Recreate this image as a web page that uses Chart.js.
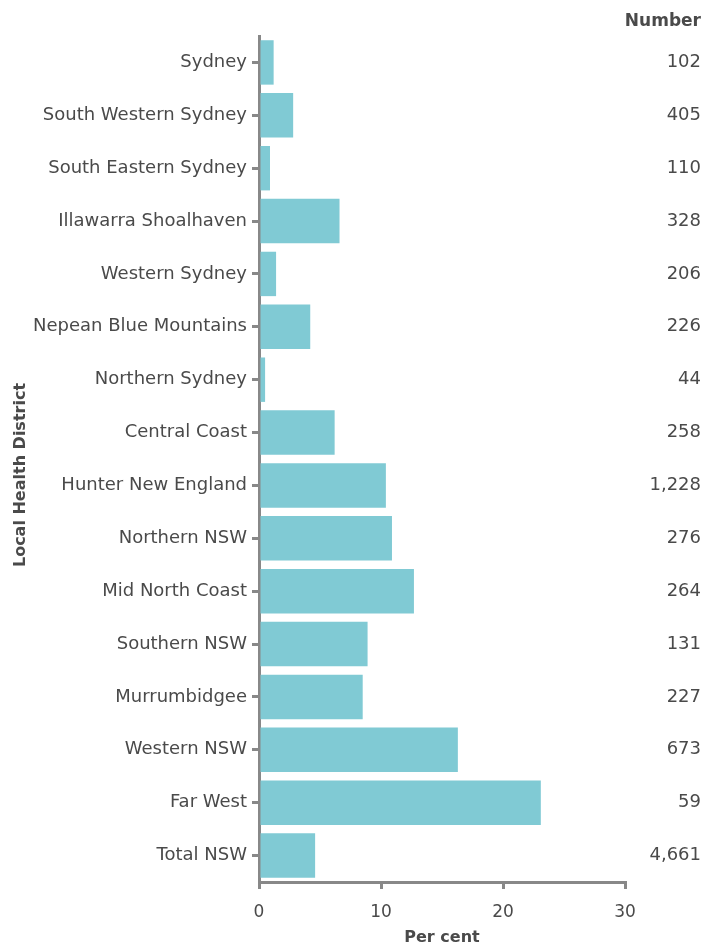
<!DOCTYPE html>
<html>
<head>
<meta charset="utf-8">
<script src="https://cdn.jsdelivr.net/npm/chart.js@4"></script>
<style>
  html, body { margin: 0; padding: 0; background: #fff; }
  #wrap { width: 717px; height: 944px; }
</style>
</head>
<body>
<div id="wrap"><canvas id="grafico" width="717" height="944"></canvas></div>
<script>
const distritos = [
  "Sydney", "South Western Sydney", "South Eastern Sydney", "Illawarra Shoalhaven",
  "Western Sydney", "Nepean Blue Mountains", "Northern Sydney", "Central Coast",
  "Hunter New England", "Northern NSW", "Mid North Coast", "Southern NSW",
  "Murrumbidgee", "Western NSW", "Far West", "Total NSW"
];
const percentagens = [1.2, 2.8, 0.9, 6.6, 1.4, 4.2, 0.5, 6.2, 10.4, 10.9, 12.7, 8.9, 8.5, 16.3, 23.1, 4.6];
const numeros = ["102", "405", "110", "328", "206", "226", "44", "258", "1,228", "276", "264", "131", "227", "673", "59", "4,661"];
const ticksX = [0, 10, 20, 30];

const fonte = "'DejaVu Sans', sans-serif";
const cinza = "#888888";
const texto = "#4a4a4a";

// coluna "Number" à direita + título do eixo y (desenhados à mão)
const colunaNumeros = {
  id: "colunaNumeros",
  afterDraw(chart) {
    const ctx = chart.ctx;
    const y = chart.scales.y;
    ctx.save();
    ctx.textAlign = "right";
    ctx.textBaseline = "middle";
    ctx.fillStyle = texto;
    ctx.font = "bold 17px " + fonte;
    ctx.fillText("Number", 701, 22);
    ctx.font = "18px " + fonte;
    numeros.forEach((n, i) => {
      ctx.fillText(n, 701, y.getPixelForValue(i));
    });
    ctx.translate(21, 475);
    ctx.rotate(-Math.PI / 2);
    ctx.textAlign = "center";
    ctx.font = "bold 16px " + fonte;
    ctx.fillText("Local Health District", 0, 0);
    ctx.restore();
  }
};

new Chart(document.getElementById("grafico"), {
  type: "bar",
  data: {
    labels: distritos,
    datasets: [{
      data: percentagens,
      backgroundColor: "#80cad4",
      barPercentage: 0.84,
      categoryPercentage: 1.0
    }]
  },
  options: {
    indexAxis: "y",
    responsive: false,
    animation: false,
    layout: { padding: { top: 36, right: 92, left: 0, bottom: 0 } },
    plugins: { legend: { display: false }, tooltip: { enabled: false } },
    scales: {
      x: {
        min: 0, max: 30,
        afterBuildTicks(scale) { scale.ticks = ticksX.map(v => ({ value: v })); },
        afterFit(scale) { scale.height = 62; },
        grid: { drawOnChartArea: false, color: cinza, lineWidth: 3, tickLength: 7 },
        border: { color: cinza, width: 3 },
        ticks: { color: texto, font: { family: fonte, size: 17 }, padding: 13 },
        title: { display: true, text: "Per cent", color: texto, font: { family: fonte, size: 16, weight: "bold" }, padding: { top: 8, bottom: -3 } }
      },
      y: {
        afterFit(scale) { scale.width = 259; },
        grid: { drawOnChartArea: false, color: cinza, lineWidth: 3, tickLength: 7, offset: false },
        border: { color: cinza, width: 3 },
        ticks: { color: texto, font: { family: fonte, size: 18 }, padding: 5, autoSkip: false },
        title: { display: false }
      }
    }
  },
  plugins: [colunaNumeros]
});
</script>
</body>
</html>
